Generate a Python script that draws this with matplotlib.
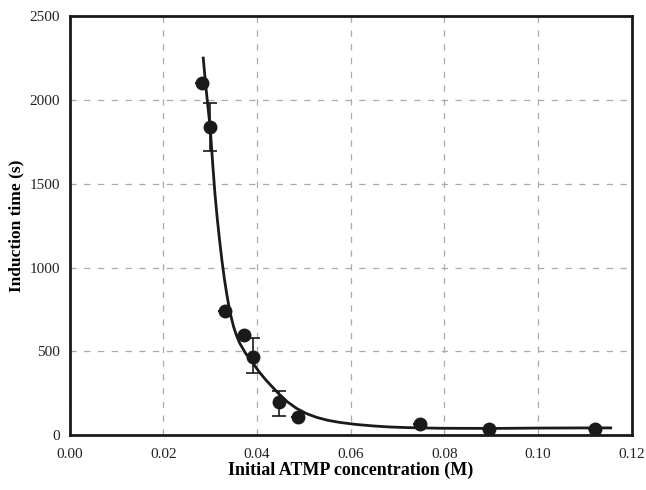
import matplotlib
matplotlib.use('Agg')
import matplotlib.pyplot as plt

plt.rcParams['font.family'] = ['Liberation Serif', 'DejaVu Serif']

# measured points
conc = [0.0282, 0.0300, 0.0331, 0.0373, 0.0391, 0.0447, 0.0487, 0.0747, 0.0895, 0.1122]
t_ind = [2100, 1836, 742, 597, 467, 199, 109, 66, 36, 36]
err_low = [0, 142, 0, 0, 95, 86, 0, 0, 0, 0]
err_high = [0, 143, 0, 0, 110, 65, 0, 0, 0, 0]

# fitted curve
fit_x = [0.0285, 0.0290, 0.0295, 0.0300, 0.0305, 0.0310, 0.0315, 0.0320, 0.0325,
         0.0330, 0.0335, 0.0340, 0.0345, 0.0350, 0.0356, 0.0363, 0.0375, 0.0391,
         0.0405, 0.0420, 0.0435, 0.0448, 0.0465, 0.0484, 0.0505, 0.0527, 0.0550,
         0.0576, 0.0610, 0.0647, 0.0680, 0.0719, 0.0790, 0.0900, 0.1000, 0.1100,
         0.1155]
fit_y = [2250, 2095, 1960, 1830, 1625, 1440, 1290, 1160, 1040,
         935, 845, 765, 700, 645, 595, 548, 490, 430,
         375, 325, 280, 242, 198, 160, 129, 106, 89,
         76, 64, 55, 49, 45, 41, 40, 42, 43,
         43]

fig = plt.figure(figsize=(6.46, 4.9), dpi=100)
ax = fig.add_axes([0.108, 0.112, 0.87, 0.855])

ax.plot(fit_x, fit_y, color='#1a1a1a', lw=2, zorder=3)
ax.errorbar(conc, t_ind, yerr=[err_low, err_high], fmt='o', color='#1a1a1a',
            ms=9, capsize=5, elinewidth=1.2, capthick=1.2, zorder=4)

ax.set_xlim(0, 0.12)
ax.set_ylim(0, 2500)
ax.set_xticks([0.0, 0.02, 0.04, 0.06, 0.08, 0.10, 0.12])
ax.set_xticklabels(['0.00', '0.02', '0.04', '0.06', '0.08', '0.10', '0.12'])
ax.set_yticks([0, 500, 1000, 1500, 2000, 2500])
ax.tick_params(length=0, labelsize=11, colors='#222222')
ax.tick_params(axis='x', pad=9)
ax.tick_params(axis='y', pad=7)
ax.grid(True, ls=(0, (5, 6)), color='#aaaaaa', lw=0.9)
ax.set_axisbelow(True)
for s in ax.spines.values():
    s.set_linewidth(2)
    s.set_color('#1a1a1a')

ax.set_xlabel('Initial ATMP concentration (M)', fontsize=13, fontweight='bold', labelpad=1)
ax.set_ylabel('Induction time (s)', fontsize=12.5, fontweight='bold', labelpad=4)

fig.savefig('out.png', dpi=100)
